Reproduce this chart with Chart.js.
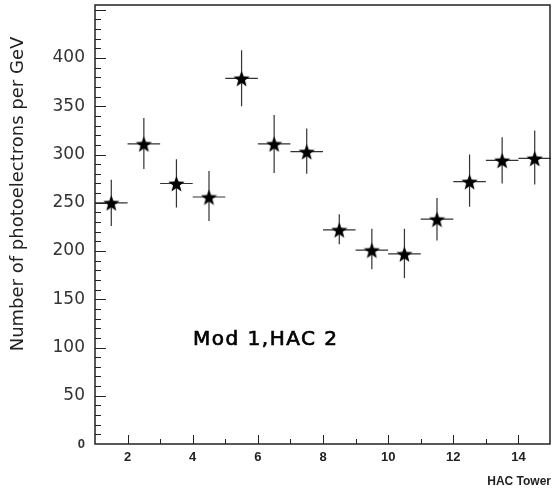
<!DOCTYPE html>
<html>
<head>
<meta charset="utf-8">
<script src="https://cdn.jsdelivr.net/npm/chart.js@4"></script>
<style>
  html, body { margin: 0; padding: 0; background: #fff; }
  #wrap { width: 552px; height: 489px; }
</style>
</head>
<body>
<div id="wrap"><canvas id="chartCanvas" width="552" height="489"></canvas></div>
<script>
const towers = [1.5, 2.5, 3.5, 4.5, 5.5, 6.5, 7.5, 8.5, 9.5, 10.5, 11.5, 12.5, 13.5, 14.5];
const yields = [250, 311, 270, 256, 379, 311, 303, 222, 201, 197, 233, 272, 294, 296];
const errUp = [24, 27, 25, 27, 29, 30, 24, 16, 22, 26, 22, 28, 24, 29];
const errDown = [24, 26, 25, 25, 29, 30, 23, 15, 20, 25, 22, 26, 24, 27];
const towerHalfWidth = 0.5;
const xTicks = [2, 4, 6, 8, 10, 12, 14];
const yTicks = [0, 50, 100, 150, 200, 250, 300, 350, 400];
const ink = '#222';

// filled five-pointed star used as the marker
function makeStar(size) {
  const c = document.createElement('canvas');
  c.width = size; c.height = size;
  const g = c.getContext('2d');
  const R = size / 2, r = R * 0.42;
  g.beginPath();
  for (let i = 0; i < 10; i++) {
    const rad = i % 2 === 0 ? R : r;
    const a = -Math.PI / 2 + i * Math.PI / 5;
    const px = R + rad * Math.cos(a), py = R + 1 + rad * Math.sin(a);
    if (i === 0) g.moveTo(px, py); else g.lineTo(px, py);
  }
  g.closePath();
  g.fillStyle = '#000';
  g.fill();
  return c;
}
const star = makeStar(17);

const errorBars = {
  id: 'errorBars',
  beforeDatasetsDraw(chart) {
    const { ctx, scales: { x, y } } = chart;
    ctx.save();
    ctx.strokeStyle = '#333';
    ctx.lineWidth = 1.2;
    towers.forEach((t, i) => {
      const px = x.getPixelForValue(t);
      const py = y.getPixelForValue(yields[i]);
      ctx.beginPath();
      ctx.moveTo(x.getPixelForValue(t - towerHalfWidth), py);
      ctx.lineTo(x.getPixelForValue(t + towerHalfWidth), py);
      ctx.moveTo(px, y.getPixelForValue(yields[i] + errUp[i]));
      ctx.lineTo(px, y.getPixelForValue(yields[i] - errDown[i]));
      ctx.stroke();
    });
    ctx.restore();
  }
};

const frame = {
  id: 'frame',
  afterDraw(chart) {
    const { ctx, chartArea: a, scales: { x, y } } = chart;
    ctx.save();
    ctx.strokeStyle = ink;
    ctx.lineWidth = 1.5;
    ctx.strokeRect(a.left, a.top, a.right - a.left - 1, a.bottom - a.top);
    ctx.lineWidth = 1;
    ctx.beginPath();
    // inward ticks on the left axis
    for (let v = 10; v <= 450; v += 10) {
      const py = Math.round(y.getPixelForValue(v)) + 0.5;
      const len = v % 50 === 0 ? 11 : 6;
      ctx.moveTo(a.left, py);
      ctx.lineTo(a.left + len, py);
    }
    // inward ticks on the bottom axis
    for (let v = 2; v <= 14; v++) {
      const px = Math.round(x.getPixelForValue(v)) + 0.5;
      const len = v % 2 === 0 ? 9 : 5;
      ctx.moveTo(px, a.bottom);
      ctx.lineTo(px, a.bottom - len);
    }
    ctx.stroke();

    ctx.fillStyle = ink;
    ctx.font = '18px "DejaVu Sans"';
    ctx.textAlign = 'center';
    ctx.textBaseline = 'alphabetic';
    ctx.translate(23, 194);
    ctx.rotate(-Math.PI / 2);
    ctx.fillText('Number of photoelectrons per GeV', 0, 0);
    ctx.restore();

    // plot annotation
    ctx.save();
    ctx.fillStyle = '#000';
    ctx.strokeStyle = '#000';
    ctx.lineWidth = 0.7;
    ctx.font = '20px "DejaVu Sans"';
    ctx.letterSpacing = '1.5px';
    ctx.textAlign = 'left';
    ctx.textBaseline = 'alphabetic';
    ctx.fillText('Mod 1,HAC 2', 193, 345);
    ctx.strokeText('Mod 1,HAC 2', 193, 345);
    ctx.restore();
  }
};

const ctx = document.getElementById('chartCanvas').getContext('2d');
const chart = new Chart(ctx, {
  type: 'scatter',
  data: {
    datasets: [{
      label: 'Mod 1,HAC 2',
      data: towers.map((t, i) => ({ x: t, y: yields[i] })),
      pointStyle: star,
      pointRadius: 8,
      pointHoverRadius: 8
    }]
  },
  options: {
    responsive: false,
    animation: false,
    layout: { autoPadding: false, padding: { top: 5, right: 1, left: 0, bottom: 0 } },
    plugins: { legend: { display: false }, tooltip: { enabled: false } },
    scales: {
      x: {
        type: 'linear',
        min: 1,
        max: 15,
        grid: { display: false, drawTicks: false },
        border: { display: false },
        afterBuildTicks: s => { s.ticks = xTicks.map(v => ({ value: v })); },
        afterFit: s => { s.height = 45; s.paddingLeft = 0; s.paddingRight = 0; },
        ticks: {
          padding: 6,
          color: ink,
          font: { family: 'Liberation Sans', size: 13, weight: 'bold' }
        },
        title: {
          display: true,
          text: 'HAC Tower',
          align: 'end',
          color: ink,
          padding: { top: 0, bottom: 0 },
          font: { family: 'Liberation Sans', size: 12, weight: 'bold' }
        }
      },
      y: {
        min: 0,
        max: 455,
        grid: { display: false, drawTicks: false },
        border: { display: false },
        afterBuildTicks: s => { s.ticks = yTicks.map(v => ({ value: v })); },
        afterFit: s => { s.width = 95; s.paddingTop = 0; s.paddingBottom = 0; },
        ticks: {
          padding: 10,
          color: '#333',
          font: c => c.tick && c.tick.value === 0
            ? { family: 'Liberation Sans', size: 13, weight: 'bold' }
            : { family: 'DejaVu Sans', size: 17 }
        }
      }
    }
  },
  plugins: [errorBars, frame]
});
</script>
</body>
</html>
